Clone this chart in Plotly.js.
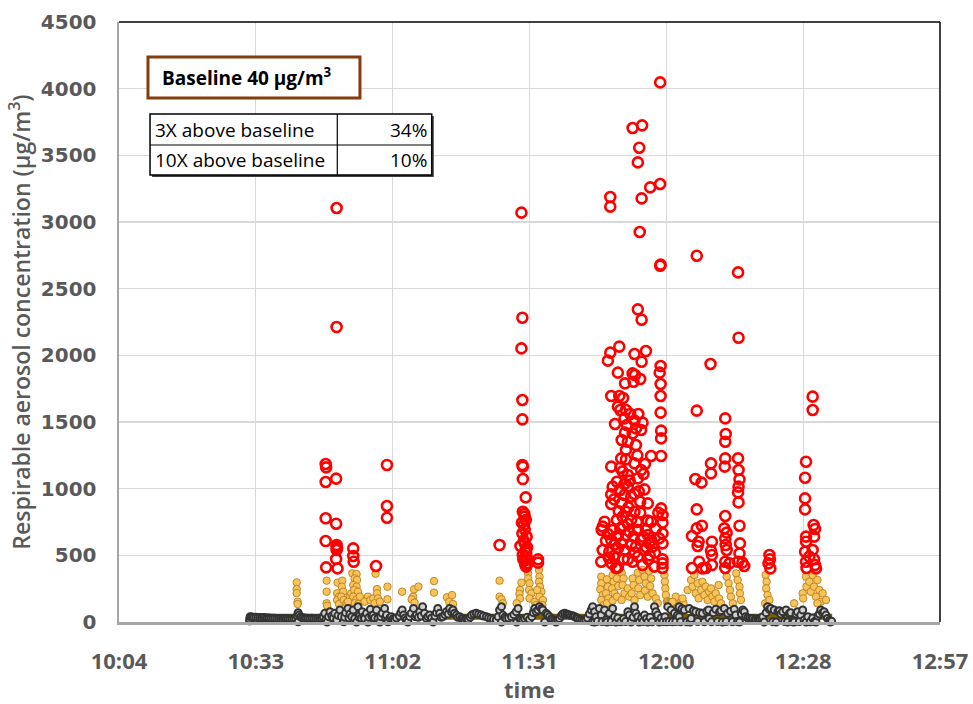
<!DOCTYPE html>
<html><head><meta charset="utf-8">
<script src="https://cdn.plot.ly/plotly-3.0.1.min.js"></script>
<style>html,body{margin:0;padding:0;background:#fff}#chart{width:973px;height:704px}</style>
</head><body><div id="chart"></div>
<script>
// x in minutes since midnight; Excel axis 0.42 .. 0.54 day, step 0.02 day
const tickVals = [604.8, 633.6, 662.4, 691.2, 720.0, 748.8, 777.6];
const tickText = ['10:04','10:33','11:02','11:31','12:00','12:28','12:57'];
const baselineValue = 40;
const baselineSpan = [632.3, 754.9];
const tableRows = ['3X above baseline','10X above baseline'];
const tableVals = ['34%','10%'];

// > 10X baseline (red open circles)
const redPts = [
[648.3,1185],[648.4,1160],[648.3,1050],[650.5,1075],[648.3,778],[650.5,737],[648.3,607],[650.6,577],[650.6,565],[650.7,552],[650.6,540],[650.5,472],[648.4,410],[650.8,402],[654.1,552],[654.1,495],[654.2,452],[658.9,420],[661.2,1178],[661.2,870],[661.2,782],[650.6,3105],[650.6,2212],
[689.5,3070],[689.7,2282],[689.5,2052],[689.7,1665],[689.7,1520],[689.7,1177],[689.8,1165],[689.8,1072],[690.4,935],[689.8,827],[690.2,790],[690.4,765],[690.0,727],[690.2,695],[689.7,665],[690.6,640],[684.9,577],[689.3,570],[690.2,590],[690.4,540],[689.8,502],[690.6,490],[690.2,460],[690.8,440],[690.5,415],[693.0,470],[693.0,445],[690.0,610],[690.5,520],[689.9,470],[690.3,430],[690.7,560],[689.6,745],[690.1,810],
[710.1,2065],[708.2,2020],[707.7,1960],[713.3,2010],[715.7,2032],[714.8,1952],[718.8,1920],[718.6,1870],[709.8,1870],[712.9,1865],[713.4,1852],[714.5,1822],[713.1,1802],[711.3,1790],[718.8,1785],[708.4,1695],[710.1,1695],[718.8,1695],[709.8,1615],[710.3,1590],[711.5,1590],[718.8,1570],[711.2,1527],[713.3,1510],[715.0,1495],[709.2,1485],[711.7,1477],[713.6,1452],[714.7,1440],[718.9,1435],[711.3,1420],[712.9,1415],[718.9,1377],[710.6,1365],[711.9,1352],[713.6,1327],[711.5,1290],[716.8,1245],[718.9,1245],[710.5,1227],[711.5,1220],[713.3,1190],[715.5,1185],[708.4,1165],[710.3,1157],[714.7,1140],[711.9,1102],[715.2,1110],[714.0,1077],[709.6,1052],[711.2,1035],[708.7,1015],[711.9,1015],[715.4,995],[710.3,990],[713.3,960],[708.4,957],[711.2,952],[712.6,940],[708.4,885],[714.5,902],[716.1,890],[710.6,890],[711.5,827],[713.3,827],[714.5,820],[718.9,852],[718.3,820],[719.2,802],[710.8,790],[709.6,765],[712.6,765],[716.1,760],[716.8,752],[707.0,752],[706.6,715],[711.9,735],[719.2,745],[706.4,690],[708.7,690],[710.3,702],[714.0,690],[715.7,690],[719.2,665],[707.7,660],[709.8,645],[711.5,652],[713.1,640],[716.1,652],[708.4,615],[714.7,615],[718.5,627],[710.5,590],[712.6,577],[716.4,590],[719.2,590],[706.6,540],[708.0,527],[709.8,552],[711.2,540],[713.6,565],[715.4,540],[717.1,565],[708.9,495],[711.9,470],[714.0,490],[716.2,470],[719.2,470],[706.3,452],[708.5,440],[712.9,452],[715.0,427],[709.8,410],[717.5,415],[719.2,440],[709.4,405],[719.2,405],
[707.3,610],[709.1,580],[710.9,720],[712.2,680],[713.8,750],[715.1,640],[716.9,610],[717.8,700],[710.0,830],[712.0,860],[714.2,980],[709.0,920],[715.8,560],[717.6,520],[707.9,480],[713.4,520],[711.0,470],[716.5,500],[712.3,1060],[710.8,1130],[713.9,1250],[712.4,1560],[710.9,1680],[714.1,1560],
[718.7,4047],[712.9,3705],[714.9,3725],[714.3,3557],[714.0,3447],[716.6,3260],[718.7,3285],[708.2,3187],[708.2,3115],[714.8,3177],[714.4,2925],[718.7,2672],[718.8,2680],[714.0,2345],[714.8,2267],
[726.4,2747],[735.1,2622],[735.2,2132],[729.3,1935],[750.8,1690],[750.8,1590],[726.4,1585],[732.4,1527],[732.5,1410],[732.4,1352],[729.4,1190],[729.4,1115],[732.4,1227],[732.3,1165],[735.1,1227],[735.2,1140],[735.4,1070],[735.2,1015],[735.1,972],[735.2,897],[726.1,1072],[727.4,1045],[749.4,1202],[749.2,1082],[749.2,927],[749.2,845],[726.4,845],[732.4,795],[727.5,722],[726.4,702],[725.4,645],[726.8,602],[726.6,570],[729.6,602],[729.4,535],[729.6,502],[729.6,427],[728.3,405],[725.4,405],[726.9,452],[727.6,402],[732.2,702],[732.7,670],[732.4,627],[732.5,577],[732.7,540],[732.4,452],[733.3,440],[732.4,405],[735.4,722],[735.5,590],[735.4,515],[735.1,452],[736.0,445],[736.4,420],[741.7,502],[741.8,470],[741.5,440],[741.9,402],[751.0,727],[751.3,697],[751.1,640],[749.4,640],[749.4,602],[749.2,527],[750.8,540],[750.1,490],[751.1,470],[749.4,452],[751.3,427],[749.5,405],[751.5,402]
];

// 3X - 10X baseline (orange dots)
const orangePts = [
[642.2,297],[642.2,247],[642.2,217],[642.4,152],[642.4,135],
[648.5,310],[648.5,227],[648.5,140],[648.6,122],
[650.8,295],[650.7,215],[651.1,190],[650.7,165],[651.1,135],
[651.8,310],[651.7,265],[652.0,227],[651.6,190],[652.1,165],[652.7,140],
[653.4,190],[653.7,215],[653.9,365],[654.8,360],[654.4,327],[654.9,315],[654.1,277],[654.8,265],[654.3,240],[655.1,227],[654.1,190],[654.8,170],[655.5,190],[654.4,140],[655.2,135],[653.0,152],
[656.9,170],[657.2,190],[656.5,152],[657.7,165],[658.3,177],
[658.8,362],[659.1,247],[659.1,215],[659.3,177],[658.6,140],[659.7,152],
[661.3,265],[661.3,170],[664.4,227],[666.7,190],[666.4,170],[666.9,245],[667.8,265],[667.0,145],
[671.1,307],[671.1,220],[673.8,185],[674.9,202],[674.3,152],[675.1,135],
[684.9,310],[684.9,190],[685.3,170],[685.6,140],[689.5,295],[689.2,240],[689.1,210],[689.2,177],[688.5,140],[690.9,365],[690.9,327],[691.2,290],[691.1,240],[691.6,215],[691.2,177],[692.3,152],[692.6,127],[693.2,390],[693.3,340],[693.2,302],[693.4,265],[693.7,227],[693.3,190],[694.0,165],[693.9,127],[692.8,240],
[706.3,340],[706.3,290],[706.1,245],[706.6,202],[706.3,165],[706.8,127],[707.5,320],[707.7,265],[707.3,215],[707.8,177],[707.5,140],[708.7,352],[708.9,302],[708.6,252],[709.1,215],[708.7,160],[709.6,327],[709.9,270],[709.6,190],[710.6,370],[711.0,327],[710.8,277],[711.2,215],[710.6,165],[711.9,252],[712.2,190],[712.9,327],[713.1,277],[712.7,215],[713.3,165],[714.0,370],[714.3,315],[714.1,252],[714.5,202],[715.0,390],[715.4,340],[715.7,290],[715.5,235],[716.1,190],[716.4,385],[716.8,327],[716.6,270],[717.1,215],[717.8,177],[718.2,140],[719.6,352],[719.7,302],[719.8,252],[719.9,202],[720.1,152],
[720.3,155],[720.6,150],[720.9,148],[721.2,150],[721.5,145],[721.8,148],[722.1,145],[722.4,142],[722.7,147],[723.0,145],[723.3,140],[723.6,143],
[722.0,190],[723.4,177],[721.3,152],[724.5,240],[725.2,315],[725.5,265],[725.9,352],[726.2,215],[726.6,290],[726.8,177],[727.3,240],[727.6,302],[728.0,202],[728.3,265],[728.7,165],[729.0,227],[729.4,252],[729.7,190],[730.1,152],[730.4,215],[731.0,277],[731.1,177],[731.5,140],[732.7,340],[733.1,290],[733.4,240],[733.6,190],[734.0,140],[734.7,365],[735.0,315],[735.4,265],[735.5,215],[735.7,165],
[740.9,352],[741.1,302],[741.0,252],[741.3,202],[740.8,140],[741.7,165],[746.9,140],[748.7,215],[748.8,177],[749.5,265],[749.4,340],[750.1,302],[750.4,227],[750.8,352],[751.1,265],[751.5,190],[751.8,315],[752.2,240],[752.5,152],[752.9,215],[753.6,165],[751.8,140]
];

// below 3X baseline (dark grey dots)
const greyPts = [
[632.3,8],[632.3,22],[632.4,40],[632.6,38],[632.9,36],[633.2,35],[633.6,36],[634.0,34],[634.4,33],[634.8,32],[635.2,33],[635.6,31],[636.0,30],[636.4,30],[636.8,29],[637.2,28],[637.6,28],[638.0,27],[638.4,27],[638.8,26],[639.2,25],[639.6,26],[640.0,24],[640.4,24],[640.8,23],[641.2,23],[641.6,22],[642.0,26],
[642.3,45],[642.5,70],[642.5,2],[642.7,52],[643.0,38],[643.4,32],[643.8,30],[644.2,29],[644.6,28],[645.0,27],[645.4,28],[645.8,26],[646.2,27],[646.6,26],[647.0,28],[647.4,30],[647.8,36],
[648.1,65],[648.3,15],[648.6,0],[648.9,40],[649.2,77],[649.6,45],[649.9,30],[650.2,65],[650.6,15],[650.9,50],[651.3,90],[651.6,40],[652.1,2],[652.3,35],[652.5,70],[653.0,102],[653.2,30],[653.4,60],[653.8,40],[654.1,90],[654.4,27],[654.8,0],[655.1,115],[655.3,35],[655.5,52],[655.8,30],[656.0,77],[656.3,40],[656.5,27],[656.9,65],[657.2,0],[657.4,35],[657.7,95],[658.0,45],[658.3,52],[658.6,30],[659.0,90],[659.3,27],[659.7,0],[659.9,40],[660.2,65],[660.7,102],[660.9,35],[661.1,52],[661.4,2],[661.8,30],[662.1,40],[662.5,25],[662.8,15],[663.2,30],[663.8,45],[664.1,70],[664.4,90],[664.7,52],[665.0,30],[665.3,15],[665.6,0],[666.0,40],[666.3,65],[666.8,102],[667.1,40],[667.4,52],[667.8,35],[668.1,77],[668.4,45],[668.7,115],[669.1,65],[669.5,27],[669.8,40],[670.2,52],[670.6,30],[670.9,0],[671.3,45],[671.6,70],[671.9,102],[672.3,65],[672.6,35],[673.0,40],[673.4,55],[673.7,77],[674.1,60],[674.4,102],[674.8,75],[675.1,90],[675.4,65],[675.8,52],[676.1,35],[676.5,40],[676.9,27],[677.2,27],[677.5,15],[677.9,22],[678.3,20],
[678.7,35],[679.0,52],[679.5,60],[680.0,65],[680.5,58],[681.0,52],[681.5,45],[682.1,40],[682.6,32],[683.1,27],[683.6,20],[684.2,15],[684.6,40],[684.9,90],[685.3,115],[685.3,0],[685.6,52],[686.0,35],[686.3,27],[686.8,30],[687.4,40],[687.9,55],[688.4,77],[688.5,0],[688.8,102],[689.1,27],[689.4,20],[689.8,15],[690.2,25],[690.7,35],[691.2,20],[691.7,40],[692.0,70],[692.3,102],[692.6,77],[693.0,90],[693.3,115],[693.7,100],[694.0,90],[694.4,0],[694.7,65],[695.0,55],[695.4,40],[695.8,25],[696.1,15],[696.5,8],[696.8,0],[697.2,15],[697.5,27],[697.9,45],[698.2,60],[698.6,65],[699.0,60],[699.3,55],[699.6,52],[700.0,48],[700.4,45],[700.7,40],[701.1,32],[701.4,27],[701.8,20],[702.2,15],[702.6,12],[703.0,18],[703.4,30],[703.8,60],
[704.2,90],[704.5,115],[704.5,2],[704.9,77],[704.9,0],[705.2,40],[705.5,5],[705.9,102],[706.3,52],[706.5,3],[707.0,90],[707.3,15],[707.5,0],[708.0,65],[708.4,4],[708.7,102],[709.1,40],[709.4,0],[709.8,30],[710.4,2],[711.0,25],[711.4,3],[711.9,77],[712.2,52],[712.6,0],[713.0,35],[713.3,115],[713.6,65],[714.0,40],[714.3,0],[714.8,30],[715.1,3],[715.4,52],[715.8,25],[716.1,0],[716.6,35],[717.0,2],[717.5,115],[717.8,77],[718.2,52],[718.5,0],[718.9,30],[719.3,3],[719.7,40],[720.0,2],[720.3,115],[720.6,4],[721.0,90],[721.3,1],[721.7,65],[722.0,3],[722.3,50],[722.7,40],[723.0,2],
[722.7,115],[723.3,100],[723.8,90],[724.3,2],[724.8,102],[725.0,0],[725.2,27],[725.7,85],[726.2,77],[726.6,3],[727.0,70],[727.6,65],[728.0,2],[728.5,80],[728.9,90],[729.0,27],[729.5,1],[729.9,70],[730.4,95],[730.8,3],[731.2,75],[731.5,85],[731.8,0],[732.2,102],[732.6,4],[732.9,65],[733.5,80],[733.9,2],[734.3,95],[734.6,52],[735.0,3],[735.4,0],[735.8,60],[736.1,90],[736.4,77],[736.7,40],[737.1,30],[737.5,27],[737.9,22],[738.2,27],[738.6,18],[738.9,20],[739.3,25],[739.6,27],[740.0,32],[740.3,40],[740.6,0],[741.0,70],[741.3,115],[741.7,95],[742.0,102],[742.4,1],[742.7,90],[743.1,0],[743.5,80],[743.8,85],[744.1,60],[744.5,77],[744.9,3],[745.2,90],[745.5,0],[745.9,65],[746.2,70],[746.6,2],[746.9,0],[747.3,60],[747.6,77],[748.0,4],[748.3,52],[748.7,90],[749.0,15],[749.4,0],[749.8,40],[750.3,2],[750.8,30],[751.2,3],[751.5,0],[751.9,45],[752.2,60],[752.5,90],[752.9,70],[753.2,77],[753.6,52],[753.9,27],[754.3,12],[754.5,0],[754.8,5]
];

const xs = a => a.map(p => p[0]);
const ys = a => a.map(p => p[1]);

const data = [
  {type:'scatter', mode:'markers', x: xs(orangePts), y: ys(orangePts), cliponaxis:false,
   marker:{symbol:'circle', size:7.5, color:'#f8c35a', line:{color:'#b9801c', width:0.9}}},
  {type:'scatter', mode:'lines', x: baselineSpan, y:[baselineValue, baselineValue],
   line:{color:'#7f6000', width:6}, hoverinfo:'skip'},
  {type:'scatter', mode:'markers', x: xs(greyPts), y: ys(greyPts), cliponaxis:false,
   marker:{symbol:'circle', size:7, color:'#d0d0d0', line:{color:'#333333', width:2}}},
  {type:'scatter', mode:'markers', x: xs(redPts), y: ys(redPts), cliponaxis:false,
   marker:{symbol:'circle-open', size:10, color:'#ff0000', line:{color:'#ff0000', width:2.6}}}
];

const grey = '#595959';
const layout = {
  width:973, height:704,
  margin:{l:119, r:33, t:22, b:82},
  paper_bgcolor:'#ffffff', plot_bgcolor:'#ffffff',
  showlegend:false,
  xaxis:{range:[604.8, 777.6], tickmode:'array', tickvals:tickVals, ticktext:tickText,
    showgrid:true, gridcolor:'#d9d9d9', gridwidth:1.3, zeroline:false,
    showline:true, linecolor:'#a6a6a6', linewidth:2.5,
    ticks:'outside', ticklen:18, tickcolor:'rgba(0,0,0,0)',
    tickfont:{family:'Open Sans', size:22, color:grey, weight:'bold'},
    title:{text:'time', font:{family:'Open Sans', size:22, color:grey, weight:'bold'}, standoff:8}},
  yaxis:{range:[0,4500], tick0:0, dtick:500,
    showgrid:true, gridcolor:'#d9d9d9', gridwidth:1.3, zeroline:false,
    showline:true, linecolor:'#a6a6a6', linewidth:2.5,
    ticks:'outside', ticklen:16, tickcolor:'rgba(0,0,0,0)',
    tickfont:{family:'DejaVu Sans', size:20, color:grey, weight:'bold'},
    title:{text:'Respirable aerosol concentration (μg/m<sup>3</sup>)', font:{family:'Open Sans', size:23, color:grey, weight:600}, standoff:4}},
  shapes:[
    {type:'line', xref:'paper', yref:'paper', x0:0, x1:1, y0:1, y1:1, line:{color:'#000', width:1.5}},
    {type:'line', xref:'paper', yref:'paper', x0:1, x1:1, y0:0, y1:1, line:{color:'#000', width:1.5}},
    {type:'rect', xref:'paper', yref:'paper', x0:0.0353, x1:0.2935, y0:0.8733, y1:0.9417,
      fillcolor:'#ffffff', line:{color:'#843c0c', width:3}},
    {type:'rect', xref:'paper', yref:'paper', x0:0.0403, x1:0.3834, y0:0.7417, y1:0.8433,
      fillcolor:'#404040', line:{width:0}},
    {type:'rect', xref:'paper', yref:'paper', x0:0.0378, x1:0.3809, y0:0.745, y1:0.8467,
      fillcolor:'#ffffff', line:{color:'#000', width:1.5}},
    {type:'line', xref:'paper', yref:'paper', x0:0.0378, x1:0.3809, y0:0.795, y1:0.795, line:{color:'#000', width:1.2}},
    {type:'line', xref:'paper', yref:'paper', x0:0.2659, x1:0.2659, y0:0.745, y1:0.8467, line:{color:'#000', width:1.2}}
  ],
  annotations:[
    {xref:'paper', yref:'paper', x:0.0499, y:0.9083, xanchor:'left', yanchor:'middle', showarrow:false,
      text:'Baseline 40 μg/m<sup>3</sup>', font:{family:'Open Sans', size:19, color:'#000', weight:'bold'}},
    {xref:'paper', yref:'paper', x:0.0414, y:0.8205, xanchor:'left', yanchor:'middle', showarrow:false,
      text:tableRows[0], font:{family:'Open Sans', size:19, color:'#000'}},
    {xref:'paper', yref:'paper', x:0.0414, y:0.7705, xanchor:'left', yanchor:'middle', showarrow:false,
      text:tableRows[1], font:{family:'Open Sans', size:19, color:'#000'}},
    {xref:'paper', yref:'paper', x:0.3776, y:0.8205, xanchor:'right', yanchor:'middle', showarrow:false,
      text:tableVals[0], font:{family:'Open Sans', size:19, color:'#000'}},
    {xref:'paper', yref:'paper', x:0.3776, y:0.7705, xanchor:'right', yanchor:'middle', showarrow:false,
      text:tableVals[1], font:{family:'Open Sans', size:19, color:'#000'}}
  ]
};

Plotly.newPlot('chart', data, layout, {staticPlot:true});
</script>
</body></html>
